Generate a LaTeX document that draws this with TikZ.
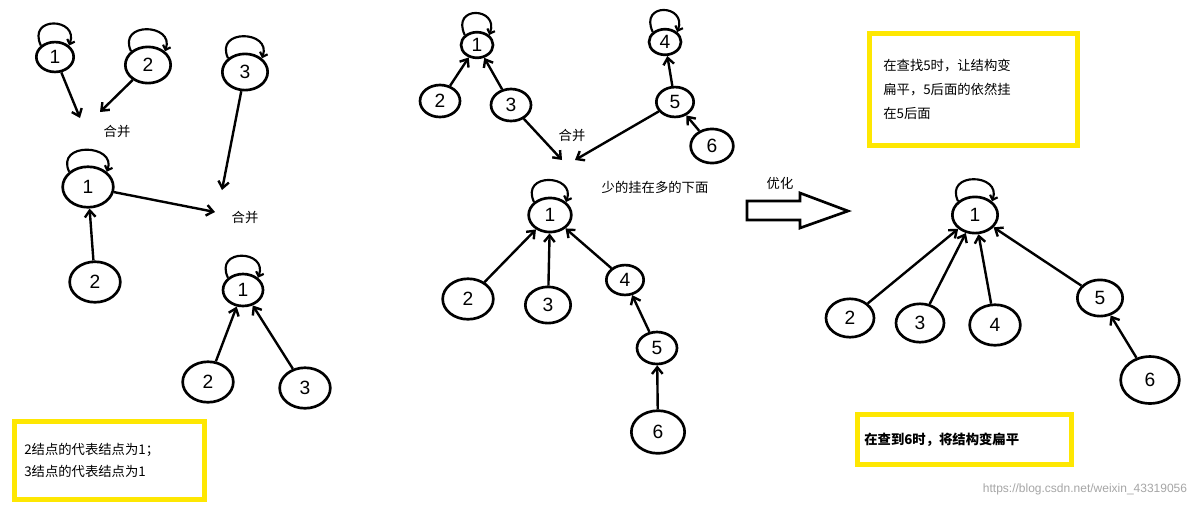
\documentclass[tikz,border=0pt]{standalone}
\usepackage{fontspec}
\setmainfont{Liberation Sans}
\newfontfamily\cjk{Noto Sans CJK SC}
\usetikzlibrary{arrows.meta,shapes.geometric}
\begin{document}
\begin{tikzpicture}[x=0.75pt,y=-0.75pt,
  nd/.style={draw,ellipse,line width=2pt,minimum width=#1pt,minimum height=#1pt*0.8,inner sep=0pt,font=\Large},
  nd/.default=28,
  ar/.style={line width=1.8pt,-{Straight Barb[length=5pt,width=8pt]}},
  lp/.style={line width=1.6pt,-{Straight Barb[length=3pt,width=6pt]}},
  ybox/.style={draw=yellow!90!orange,line width=3.5pt,fill=white},
  lab/.style={font=\cjk\fontsize{10}{12}\selectfont}]
\useasboundingbox (0,0) rectangle (1191,508);
\fill[white] (0,0) rectangle (1191,508);
\newcommand\selfloop[1]{\draw[lp] (#1.north west) .. controls +(-14,-30) and +(10,-28) .. (#1.north east);}
% left
\node[nd] (a1) at (55,57) {1}; \selfloop{a1}
\node[nd=34] (a2) at (148,65) {2}; \selfloop{a2}
\node[nd=34] (a3) at (245,72) {3}; \selfloop{a3}
\coordinate (t1) at (80,118); \coordinate (t2) at (100,112); \coordinate (t3) at (222,190);
\draw[ar] (a1) -- (t1); \draw[ar] (a2) -- (t2); \draw[ar] (a3) -- (t3);
\node[lab] (m1) at (117,131) {合并};
\node[nd=38] (b1) at (88,187) {1}; \selfloop{b1}
\node[nd=38] (b2) at (95,282) {2};
\draw[ar] (b2) -- (b1);
\coordinate (t4) at (215,212); \draw[ar] (b1) -- (t4);
\node[lab] (m2) at (245,217) {合并};
\node[nd=30] (c1) at (243,290) {1}; \selfloop{c1}
\node[nd=38] (c2) at (208,382) {2};
\node[nd=38] (c3) at (305,388) {3};
\draw[ar] (c2) -- (c1); \draw[ar] (c3) -- (c1);
\node[ybox,minimum width=190pt*0.75,minimum height=78pt*0.75,anchor=north west,align=left,text width=170pt*0.75,font=\cjk\fontsize{10}{12}\selectfont] (y1) at (12,419)
 {2结点的代表结点为1；\\[5pt]3结点的代表结点为1};
% middle
\node[nd=24] (d1) at (477,45) {1}; \selfloop{d1}
\node[nd=30] (d2) at (440,101) {2};
\node[nd=30] (d3) at (511,105) {3};
\draw[ar] (d2) -- (d1); \draw[ar] (d3) -- (d1);
\node[nd=24] (e4) at (665,42) {4}; \selfloop{e4}
\node[nd=28] (e5) at (675,102) {5};
\node[nd=32] (e6) at (712,146) {6};
\draw[ar] (e5) -- (e4); \draw[ar] (e6) -- (e5);
\coordinate (t5) at (562,160); \coordinate (t6) at (575,160);
\draw[ar] (d3) -- (t5); \draw[ar] (e5) -- (t6);
\node[lab] (m3) at (572,135) {合并};
\node[lab] (m4) at (655,187) {少的挂在多的下面};
\node[nd=32] (f1) at (550,215) {1}; \selfloop{f1}
\node[nd=38] (f2) at (468,299) {2};
\node[nd=34] (f3) at (548,305) {3};
\node[nd=28] (f4) at (625,280) {4};
\node[nd=30] (f5) at (657,348) {5};
\node[nd=40] (f6) at (658,432) {6};
\draw[ar] (f2) -- (f1); \draw[ar] (f3) -- (f1); \draw[ar] (f4) -- (f1);
\draw[ar] (f5) -- (f4); \draw[ar] (f6) -- (f5);
\draw[line width=2pt] (747,201) -- (800,201) -- (800,193) -- (848,211) -- (800,228) -- (800,220) -- (747,220) -- cycle;
\node[lab] (m5) at (780,183) {优化};
% right
\node[ybox,minimum width=208pt*0.75,minimum height=112pt*0.75,anchor=north west,align=left,text width=180pt*0.75,font=\cjk\fontsize{10}{12}\selectfont] (y2) at (867,31)
 {在查找5时，让结构变\\[6pt]扁平，5后面的依然挂\\[6pt]在5后面};
\node[nd=34] (r1) at (975,215) {1}; \selfloop{r1}
\node[nd=36] (r2) at (850,318) {2};
\node[nd=36] (r3) at (920,323) {3};
\node[nd=38] (r4) at (995,325) {4};
\node[nd=34] (r5) at (1100,298) {5};
\node[nd=44] (r6) at (1150,380) {6};
\draw[ar] (r2) -- (r1); \draw[ar] (r3) -- (r1); \draw[ar] (r4) -- (r1); \draw[ar] (r5) -- (r1);
\draw[ar] (r6) -- (r5);
\node[ybox,minimum width=214pt*0.75,minimum height=50pt*0.75,anchor=north west,align=left,text width=200pt*0.75,font=\cjk\fontsize{10}{12}\selectfont\bfseries] (y3) at (855,412) {在查到6时，将结构变扁平};
\node[font=\small,text=gray!70] (wm) at (1085,489) {https://blog.csdn.net/weixin\_43319056};
\end{tikzpicture}
\end{document}
